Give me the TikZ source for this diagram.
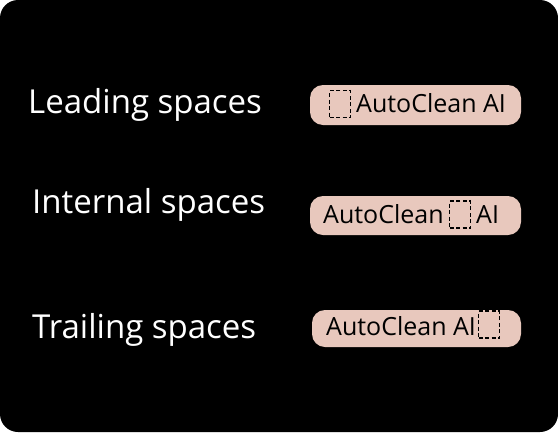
\documentclass[tikz,border=0pt]{standalone}
\usepackage{fontspec}
\setmainfont{Open Sans}
\usetikzlibrary{positioning}

\definecolor{pillpink}{HTML}{E8C8BD}

\begin{document}
\begin{tikzpicture}[
    x=1pt, y=-1pt,
    panel/.style={fill=black, rounded corners=18pt},
    label/.style={text=white, font=\fontsize{33}{40}\selectfont, inner sep=0pt, anchor=base west},
    pill/.style={fill=pillpink, rounded corners=13pt, inner sep=0pt},
    sample/.style={text=black, font=\fontsize{25}{30}\selectfont, inner sep=0pt, anchor=base west},
    gap/.style={draw=black, line width=1.5pt, dash pattern=on 4pt off 2.5pt, inner sep=0pt, minimum width=21pt, minimum height=27pt}
]
\useasboundingbox (0,0) rectangle (558,432);
% fond noir
\fill[panel] (0,0) rectangle (558,432);

% libellés
\node[label] (lead)  at (28,113) {Leading spaces};
\node[label] (inter) at (32,213) {Internal spaces};
\node[label] (trail) at (32,338) {Trailing spaces};

% pastilles
\node[pill, minimum width=211pt, minimum height=40pt] (pillA) at (415.5,105) {};
\node[pill, minimum width=211pt, minimum height=39pt] (pillB) at (415.5,215.5) {};
\node[pill, minimum width=209pt, minimum height=37pt] (pillC) at (416.5,328.5) {};

% espace en tête
\node[gap] (gapA) at (340,104) {};
\node[sample] (txtA) at (356,112) {AutoClean AI};

% espace interne
\node[sample] (txtB) at (323,223) {AutoClean};
\node[gap] (gapB) at (460,214.5) {};
\node[sample] (txtB2) at (476,223) {AI};

% espace en fin
\node[sample] (txtC) at (326,335) {AutoClean AI};
\node[gap] (gapC) at (489,324.5) {};

\end{tikzpicture}
\end{document}
